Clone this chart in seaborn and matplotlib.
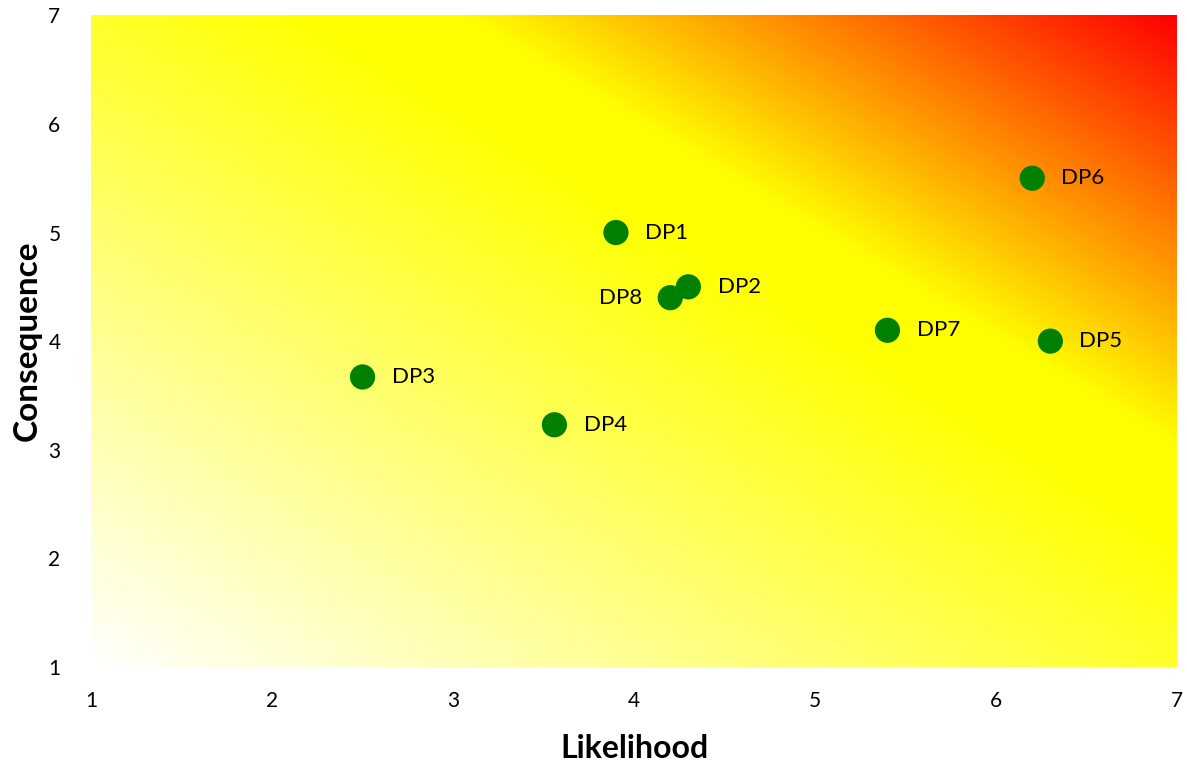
import numpy as np
import pandas as pd
import matplotlib
matplotlib.use("Agg")
import matplotlib.pyplot as plt
from matplotlib.colors import LinearSegmentedColormap
import seaborn as sns

# Risk items: likelihood vs consequence
labels = ["DP1", "DP2", "DP3", "DP4", "DP5", "DP6", "DP7", "DP8"]
likelihood = [3.9, 4.3, 2.5, 3.56, 6.3, 6.2, 5.4, 4.2]
consequence = [5.0, 4.5, 3.67, 3.23, 4.0, 5.5, 4.1, 4.4]
ticks = [1, 2, 3, 4, 5, 6, 7]

df = pd.DataFrame({"Likelihood": likelihood, "Consequence": consequence, "label": labels})

sns.set_theme(style="white")
plt.rcParams["font.family"] = ["Lato", "DejaVu Sans"]

fig = plt.figure(figsize=(11.87, 7.64), dpi=100)
ax = fig.add_axes([0.0767, 0.127, 0.9149, 0.853])

# Diagonal heat background: white -> yellow -> red
cmap = LinearSegmentedColormap.from_list(
    "risk", [(0.0, "#ffffff"), (0.6, "#ffff00"), (0.67, "#ffff00"), (1.0, "#ff0000")]
)
n = 600
u = np.linspace(0, 1, n)
U, V = np.meshgrid(u, u)
grad = (U + V) / 2
ax.imshow(grad, cmap=cmap, origin="lower", extent=[1, 7, 1, 7],
          aspect="auto", interpolation="bilinear", zorder=0)

sns.scatterplot(data=df, x="Likelihood", y="Consequence", ax=ax,
                color="#008000", s=330, edgecolor="none", zorder=3, legend=False)

for x, y, t in zip(likelihood, consequence, labels):
    if t == "DP8":
        ax.annotate(t, (x, y), xytext=(-20, 0), textcoords="offset points",
                    ha="right", va="center", fontsize=16, color="black", zorder=4)
    else:
        ax.annotate(t, (x, y), xytext=(21, 0), textcoords="offset points",
                    ha="left", va="center", fontsize=16, color="black", zorder=4)

ax.set_xlim(1, 7)
ax.set_ylim(1, 7)
ax.set_xticks(ticks)
ax.set_yticks(ticks)
ax.tick_params(axis="both", length=0, labelsize=15, colors="black")
ax.tick_params(axis="x", pad=17)
ax.tick_params(axis="y", pad=22)
for sp in ax.spines.values():
    sp.set_visible(False)
ax.set_xlabel("Likelihood", fontsize=23, fontweight="bold", labelpad=17, color="black")
ax.set_ylabel("Consequence", fontsize=24, fontweight="bold", labelpad=5, color="black")

fig.savefig("out.png", dpi=100)
